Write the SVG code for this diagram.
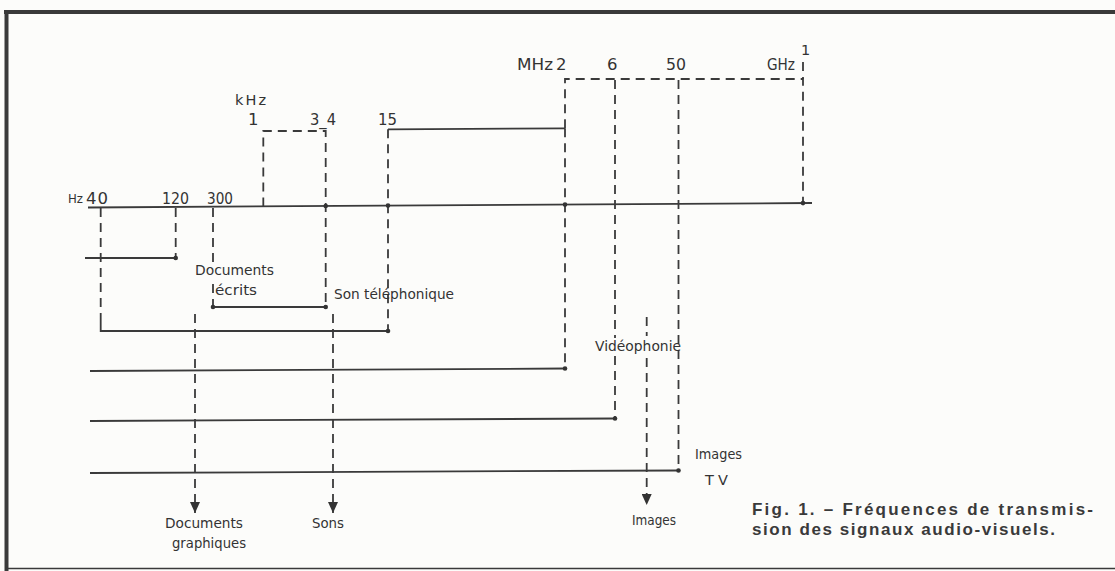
<svg xmlns="http://www.w3.org/2000/svg" width="1115" height="571" viewBox="0 0 1115 571">
<style>
.bg{fill:#fcfcfa}
.frame{stroke:#3a3a3a;fill:none}
.s{stroke:#3a3a3a;stroke-width:1.8;fill:none}
.d{stroke:#3a3a3a;stroke-width:1.8;fill:none;stroke-dasharray:9 6}
.dot{fill:#333}
.t{font-family:"DejaVu Sans","Noto Sans",sans-serif;fill:#333;font-size:14.5px}
.n{font-size:16.5px}
.u{font-size:12px}
.cap{font-family:"Liberation Sans",Arial,sans-serif;font-weight:bold;font-size:17px;fill:#3a3a3a}
</style>
<defs>
<marker id="ah" markerUnits="userSpaceOnUse" markerWidth="12" markerHeight="10" refX="11" refY="5" orient="auto" viewBox="0 0 12 10">
<path d="M0,0 L11,5 L0,10 Z" fill="#333"/>
</marker>
</defs>
<rect class="bg" x="0" y="0" width="1115" height="571"/>
<g id="frame">
<line class="frame" x1="4" y1="12" x2="1115" y2="12" stroke-width="4"/>
<line class="frame" x1="6.5" y1="10" x2="6.5" y2="571" stroke-width="4"/>
<line class="frame" x1="5" y1="568.5" x2="1115" y2="568.5" stroke-width="1.5"/>
</g>
<g id="connectors">
<line class="s" x1="88" y1="207.5" x2="812" y2="203"/>
<path class="d" d="M100.7,208 V324"/>
<path class="s" d="M100.7,322 V331 H388"/>
<path class="d" d="M175.7,208 V258"/>
<line class="s" x1="85" y1="258" x2="175.7" y2="258"/>
<path class="d" d="M213,208 V262"/>
<path class="d" d="M213,284 V307"/>
<line class="s" x1="213" y1="307" x2="325.7" y2="307"/>
<path class="d" d="M263.3,206.5 V131 H325.7 V307"/>
<line class="s" x1="388" y1="129.3" x2="565" y2="128.3"/>
<path class="d" d="M388,129.3 V331"/>
<path class="d" d="M565,128.3 V79 H803 V203"/>
<path class="d" d="M565,128.3 V368.5"/>
<path class="d" d="M803,62 V79"/>
<line class="s" x1="90" y1="371" x2="565" y2="368.5"/>
<path class="d" d="M615,80 V338"/>
<path class="d" d="M615,356 V418.5"/>
<line class="s" x1="90" y1="421" x2="615" y2="418.5"/>
<path class="d" d="M678.5,80 V470.5"/>
<line class="s" x1="90" y1="473" x2="678.5" y2="470.5"/>
<line class="d" x1="195" y1="314" x2="195" y2="513" marker-end="url(#ah)"/>
<line class="d" x1="333" y1="314" x2="333" y2="513" marker-end="url(#ah)"/>
<path class="d" d="M646.7,317 V336"/>
<line class="d" x1="646.7" y1="358" x2="646.7" y2="505" marker-end="url(#ah)"/>
<circle class="dot" cx="175.7" cy="258" r="2.3"/>
<circle class="dot" cx="213" cy="307" r="2.3"/>
<circle class="dot" cx="325.7" cy="307" r="2.3"/>
<circle class="dot" cx="325.7" cy="206" r="2.3"/>
<circle class="dot" cx="388" cy="205.6" r="2.3"/>
<circle class="dot" cx="388" cy="331" r="2.3"/>
<circle class="dot" cx="565" cy="204.6" r="2.3"/>
<circle class="dot" cx="803" cy="203.1" r="2.3"/>
<circle class="dot" cx="565" cy="368.5" r="2.3"/>
<circle class="dot" cx="615" cy="418.5" r="2.3"/>
<circle class="dot" cx="678.5" cy="470.5" r="2.3"/>
</g>
<g id="scale-labels">
<g id="lbl-hz"><text class="t u" x="68" y="203" textLength="15" lengthAdjust="spacingAndGlyphs">Hz</text></g>
<g id="lbl-40"><text class="t n" x="86" y="204" textLength="22">40</text></g>
<g id="lbl-120"><text class="t n" x="162" y="204" textLength="27" lengthAdjust="spacingAndGlyphs">120</text></g>
<g id="lbl-300"><text class="t n" x="207" y="204" textLength="26" lengthAdjust="spacingAndGlyphs">300</text></g>
<g id="lbl-khz"><text class="t" x="235" y="105" font-size="13" textLength="31">kHz</text></g>
<g id="lbl-1k"><text class="t n" x="248" y="125">1</text></g>
<g id="lbl-34"><text class="t n" x="310" y="125" textLength="26" lengthAdjust="spacingAndGlyphs">3_4</text></g>
<g id="lbl-15"><text class="t n" x="378" y="125" textLength="19" lengthAdjust="spacingAndGlyphs">15</text></g>
<g id="lbl-mhz"><text class="t n" x="517" y="70" textLength="36" lengthAdjust="spacingAndGlyphs">MHz</text></g>
<g id="lbl-2"><text class="t n" x="556" y="70">2</text></g>
<g id="lbl-6"><text class="t n" x="607" y="70">6</text></g>
<g id="lbl-50"><text class="t n" x="666" y="70" textLength="20" lengthAdjust="spacingAndGlyphs">50</text></g>
<g id="lbl-ghz"><text class="t n" x="767" y="70" textLength="28" lengthAdjust="spacingAndGlyphs">GHz</text></g>
<g id="lbl-1g"><text class="t" x="801" y="55" font-size="13">1</text></g>
</g>
<g id="node-documents-ecrits"><text class="t" x="195" y="275" textLength="79" lengthAdjust="spacingAndGlyphs">Documents</text><text class="t" x="215" y="295" textLength="42" lengthAdjust="spacingAndGlyphs">écrits</text></g>
<g id="node-son-telephonique"><text class="t" x="334" y="299" textLength="120" lengthAdjust="spacingAndGlyphs">Son téléphonique</text></g>
<g id="node-videophonie"><text class="t" x="595" y="351" textLength="86" lengthAdjust="spacingAndGlyphs">Vidéophonie</text></g>
<g id="node-images-tv"><text class="t" x="695" y="459" textLength="47" lengthAdjust="spacingAndGlyphs">Images</text><text class="t" x="705" y="485" textLength="23">T V</text></g>
<g id="node-documents-graphiques"><text class="t" x="165" y="528" textLength="78" lengthAdjust="spacingAndGlyphs">Documents</text><text class="t" x="172" y="548" textLength="74" lengthAdjust="spacingAndGlyphs">graphiques</text></g>
<g id="node-sons"><text class="t" x="312" y="528" textLength="32" lengthAdjust="spacingAndGlyphs">Sons</text></g>
<g id="node-images"><text class="t" x="632" y="525" textLength="44" lengthAdjust="spacingAndGlyphs">Images</text></g>
<g id="caption">
<text class="cap" x="752" y="515" textLength="341">Fig. 1. – Fréquences de transmis-</text>
<text class="cap" x="752" y="535" textLength="303">sion des signaux audio-visuels.</text>
</g>
</svg>
